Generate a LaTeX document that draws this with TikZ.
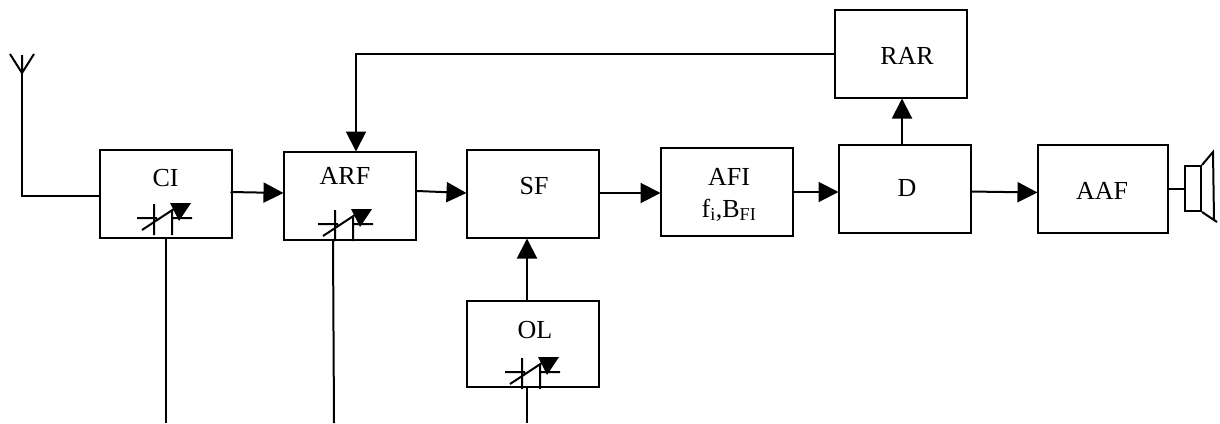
\documentclass[tikz,border=0pt]{standalone}
\usepackage{fontspec}
\setmainfont{Liberation Serif}
\usetikzlibrary{arrows.meta}
\newcommand{\lab}[3]{\raisebox{#2pt}[0pt][0pt]{\makebox[0pt]{\hspace*{#1pt}\hspace*{#1pt}#3}}}
\tikzset{
  wire/.style={line width=2pt},
  arr/.style={wire,-{Triangle[length=20pt,width=20pt]},shorten >=-0.5pt},
  box/.style={draw,line width=2pt,minimum width=132pt,minimum height=88pt,inner sep=0pt,font=\fontsize{26}{26}\selectfont},
  varcap/.pic={
    \draw[wire] (-17,0)--(3,0) (0,-14)--(0,17) (18,-8)--(18,17) (18,0)--(38,0) (-12,12)--(26,-13);
    \fill (16,-15)--(37,-15)--(25,3)--cycle;
  }
}
\begin{document}
\begin{tikzpicture}[x=1pt,y=-1pt]
\useasboundingbox (0,0) rectangle (1220,423);
\node[box] (ci)  at (165.5,194) {\lab{0}{8}{CI}};
\node[box] (arf) at (350,196)   {\lab{-5}{12}{ARF}};
\node[box] (sf)  at (533,194)   {\lab{1}{0}{SF}};
\node[box,minimum height=86pt] (ol) at (533,344) {\lab{2}{6}{OL}};
\node[box] (afi) at (727,192)   {\lab{2}{7}{AFI}\lab{2}{-25}{f\textsubscript{i},B\textsubscript{FI}}};
\node[box] (d)   at (905,189)   {\lab{2}{-7}{D}};
\node[box] (rar) at (901,54)    {\lab{6}{-10}{RAR}};
\node[box,minimum width=130pt] (aaf) at (1103,189) {\lab{-1}{-10}{AAF}};
\node[draw,line width=2pt,minimum width=16pt,minimum height=45pt,inner sep=0pt] (spk) at (1193,188.5) {};
% variable capacitors
\pic at ([xshift=-11.5pt,yshift=-24pt]ci.center) {varcap};
\pic at ([xshift=-15pt,yshift=-28pt]arf.center) {varcap};
\pic at ([xshift=-11pt,yshift=-28pt]ol.center) {varcap};
% antenna
\coordinate (ant) at (22,73);
\coordinate (antl) at (10,54);
\coordinate (antm) at (22,55);
\coordinate (antr) at (34,54);
\draw[wire] (antl)--(ant)--(antr) (antm)--(ant);
\draw[wire] (antm) |- ([yshift=-2pt]ci.west);
% signal chain
\draw[arr] ([xshift=-2pt,yshift=2pt]ci.east) -- ([yshift=3pt]arf.west);
\draw[arr] ([yshift=5pt]arf.east) -- (sf.west |- 0,193);
\draw[arr] ([xshift=-2pt,yshift=1pt]sf.east) -- (afi.west |- 0,193);
\draw[arr] ([xshift=-1pt]afi.east) -- (d.west |- 0,192);
\draw[arr] ([xshift=-2pt,yshift=-2.5pt]d.east) -- ([yshift=-3.5pt]aaf.west);
\draw[wire] (aaf.east |- spk.west) -- (spk.west);
\draw[arr] ([xshift=-6pt]ol.north) -- ([xshift=-6pt]sf.south);
\draw[arr] ([xshift=-3pt]d.north) -- (rar.south -| 902,0);
\draw[arr] (rar.west) -| ([xshift=6pt]arf.north);
% speaker cone
\coordinate (conet) at (1213,152);
\coordinate (coneb) at (1217,222);
\draw[wire] (spk.north east) -- (conet) -- (1214,220) (spk.south east) -- (coneb);
% tuning feeds
\coordinate (f1) at (165.5,423);
\coordinate (f2) at (334,423);
\coordinate (f3) at (527,423);
\draw[wire] (ci.south) -- (f1);
\draw[wire] ([xshift=-17pt]arf.south) -- (f2);
\draw[wire] ([xshift=-6pt,yshift=2pt]ol.south) -- (f3);
\end{tikzpicture}
\end{document}
